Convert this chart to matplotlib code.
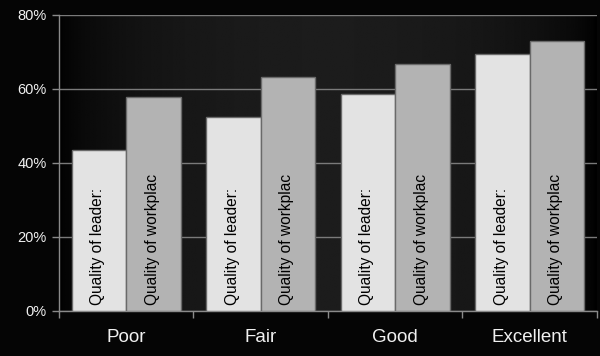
import numpy as np
import matplotlib.pyplot as plt
import matplotlib
matplotlib.rcParams['font.family'] = ['Liberation Sans', 'DejaVu Sans']


categories = ['Poor', 'Fair', 'Good', 'Excellent']
leader = [43.5, 52.5, 58.6, 69.4]
workplace = [57.9, 63.2, 66.7, 73.1]
series_labels = ['Quality of leader:', 'Quality of workplac']
yticks = [0, 20, 40, 60, 80]

fig = plt.figure(figsize=(6.0, 3.56), dpi=100, facecolor='#050505')
ax = fig.add_axes([59/600, 45/356, 538/600, 296/356])
ax.set_facecolor('#000000')

# soft horizontal gradient behind the bars
xg = np.linspace(-1, 1, 300)
grad = np.tile(0.11 * (1 - xg**2) ** 0.6, (2, 1))
ax.imshow(grad, extent=[-0.5, 3.5, 0, 80], aspect='auto', cmap='gray',
          vmin=0, vmax=1, zorder=0, interpolation='bilinear')

x = np.arange(len(categories))
w = 0.404
b1 = ax.bar(x - w/2, leader, w, color='#e3e3e3', edgecolor='#6a6a6a',
            linewidth=1, zorder=3)
b2 = ax.bar(x + w/2, workplace, w, color='#b3b3b3', edgecolor='#6a6a6a',
            linewidth=1, zorder=3)

for i in range(len(categories)):
    ax.text(x[i] - w/2 - 0.01, 1.6, series_labels[0], rotation=90,
            ha='center', va='bottom', fontsize=11.2, color='#000000', zorder=4)
    ax.text(x[i] + w/2 - 0.01, 1.6, series_labels[1], rotation=90,
            ha='center', va='bottom', fontsize=11.2, color='#000000', zorder=4)

ax.set_xlim(-0.5, 3.5)
ax.set_ylim(0, 80)
ax.set_yticks(yticks)
ax.set_yticklabels(['{0}%'.format(v) for v in yticks])
ax.yaxis.grid(True, color='#7a7a7a', linewidth=1, zorder=1)
ax.set_axisbelow(True)

ax.set_xticks(np.arange(-0.5, 4.0, 1.0))
ax.set_xticklabels([])
ax.set_xticks(x, minor=True)
ax.set_xticklabels(categories, minor=True)
ax.tick_params(axis='x', which='minor', length=0, pad=13, labelsize=13.5,
               labelcolor='#f0f0f0')
ax.tick_params(axis='x', which='major', length=5, color='#8a8a8a', width=1)
ax.tick_params(axis='y', length=5, color='#8a8a8a', width=1, labelsize=10.5,
               labelcolor='#f0f0f0', pad=4)

for s in ['top', 'right']:
    ax.spines[s].set_visible(False)
for s in ['left', 'bottom']:
    ax.spines[s].set_color('#8a8a8a')
    ax.spines[s].set_linewidth(1)

fig.savefig('out.png', dpi=100, facecolor=fig.get_facecolor())
